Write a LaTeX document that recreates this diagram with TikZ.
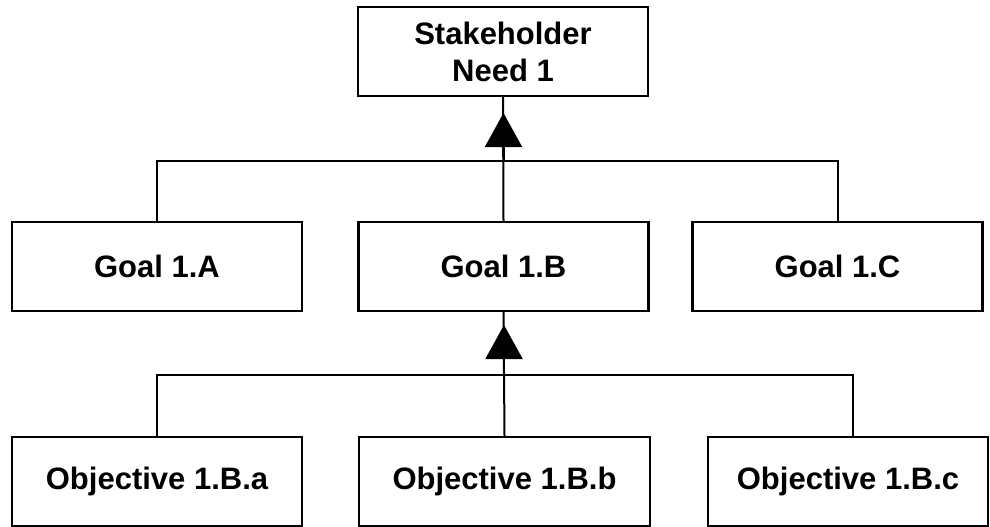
\documentclass[tikz,border=0pt]{standalone}
\usepackage{fontspec}
\setmainfont{Liberation Sans}
\usetikzlibrary{arrows.meta}
\begin{document}
\begin{tikzpicture}[x=1pt,y=-1pt,
  box/.style={draw, line width=2.2pt, minimum width=290pt, minimum height=89pt,
    inner sep=0pt, align=center, font=\bfseries\fontsize{31}{37}\selectfont},
  link/.style={line width=2pt},
  uparrow/.style={link, -{Triangle[length=34pt,width=37pt]}}]
\useasboundingbox (0,0) rectangle (990,527);

% top level
\node[box] (need) at (503,51.5) {Stakeholder\\Need 1};

% goals
\node[box] (ga) at (157,266.5) {Goal 1.A};
\node[box] (gb) at (503.5,266.5) {Goal 1.B};
\node[box] (gc) at (837.5,266.5) {Goal 1.C};

% objectives
\node[box] (oa) at (157,481.5) {Objective 1.B.a};
\node[box, minimum width=291pt] (ob) at (504.5,481.5) {Objective 1.B.b};
\node[box, minimum width=280pt] (oc) at (848,481.5) {Objective 1.B.c};

% junction points
\coordinate (bus1) at (503.5,161);
\coordinate (tip1) at (503.5,113);
\coordinate (bus2) at (504,375);
\coordinate (tip2) at (504,325);
\coordinate (octop) at (853,437);

% goals to need
\draw[link] (ga.north) -- (ga.north |- bus1) -- (gc.north |- bus1) -- (gc.north);
\draw[link] (gb.north) -- (need.south);
\draw[uparrow] (bus1) -- (tip1);

% objectives to goal 1.B
\draw[link] (oa.north) -- (oa.north |- bus2) -- (octop |- bus2) -- (octop);
\draw[link] (ob.north) -- (gb.south);
\draw[uparrow] (bus2) -- (tip2);
\end{tikzpicture}
\end{document}
